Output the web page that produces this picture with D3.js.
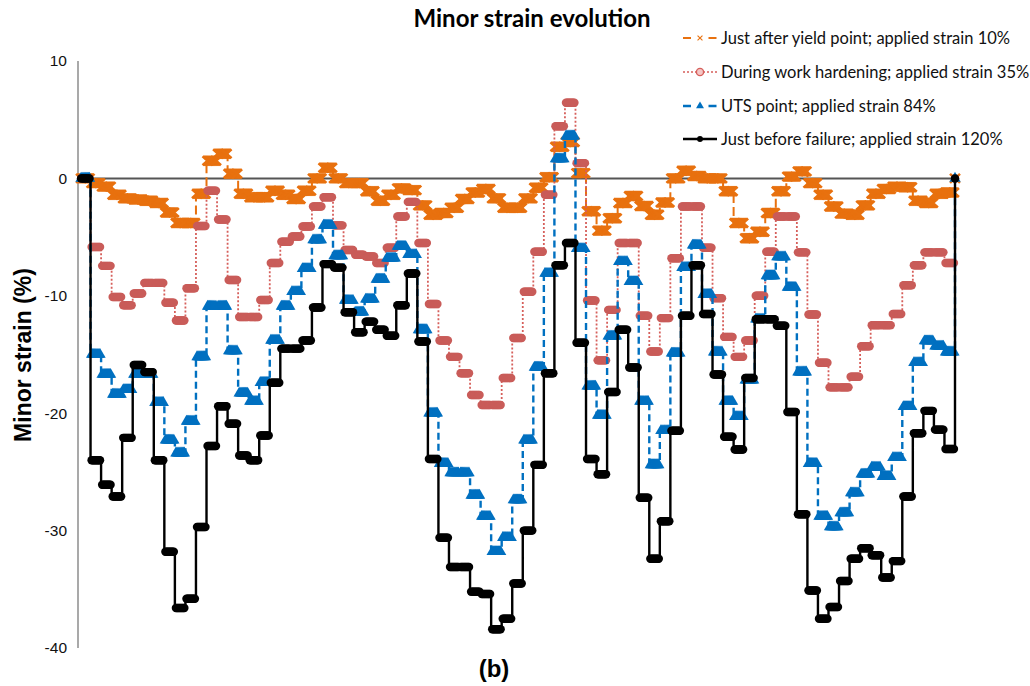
<!DOCTYPE html>
<html>
<head>
<meta charset="utf-8">
<script src="https://cdn.jsdelivr.net/npm/d3@7"></script>
<style>
  body { margin: 0; background: #fff; }
</style>
</head>
<body>
<script>
// Minor strain per segment along the section (one value per step, last one is the end point)
const yieldPoint = [0, -0.4, -0.7, -1.4, -1.7, -1.8, -1.9, -2.1, -2.9, -3.8, -3.8, -1.3, 1.5, 2.1, 0.4,
    -1.3, -1.6, -1.6, -1.05, -1.4, -1.75, -1.05, 0, 0.9, 0, -0.4, -0.4, -1.1, -1.9, -1.4, -0.85, -1.0,
    -2.3, -3.1, -2.95, -2.5, -1.75, -1.2, -0.9, -1.7, -2.5, -2.5, -1.7, -0.8, 0.1, 2.7, 3.1, 0.45, -2.8,
    -4.45, -3.4, -2.1, -1.5, -2.35, -3.1, -2.05, 0, 0.65, 0.2, 0, 0, -1.1, -3.8, -5.1, -4.55, -2.95, -1.1,
    0.15, 0.6, -0.4, -1.4, -2.4, -3.0, -3.1, -2.3, -1.3, -0.9, -0.7, -0.75, -1.9, -2.1, -1.3, -1.2, 0];

const workHardening = [0, -5.85, -7.45, -10.1, -10.8, -9.8, -8.9, -8.9, -10.6, -12.1, -9.35, -4.05, -1.05,
    -3.5, -8.65, -11.8, -11.8, -10.35, -7.2, -5.4, -4.95, -4.1, -2.4, -1.6, -4.0, -6.1, -6.5, -6.65, -7.2,
    -5.9, -3.25, -2.0, -5.5, -10.7, -13.8, -15.2, -16.6, -18.45, -19.3, -19.3, -17.0, -13.6, -9.65, -6.25,
    -1.4, 4.45, 6.45, 1.3, -10.4, -15.5, -11.2, -5.5, -5.5, -11.7, -14.75, -11.9, -6.8, -2.4, -2.4, -5.9,
    -10.2, -13.5, -15.2, -13.8, -10.0, -6.25, -3.25, -3.25, -6.3, -11.6, -15.7, -17.8, -17.8, -16.9, -14.3,
    -12.5, -12.5, -11.55, -9.1, -7.4, -6.3, -6.3, -7.2, 0];

const utsPoint = [0, -15.0, -16.7, -18.4, -18.0, -16.7, -16.7, -19.1, -22.3, -23.4, -20.7, -15.2, -10.9,
    -10.9, -14.7, -18.3, -19.0, -17.4, -13.8, -10.9, -9.65, -7.7, -5.25, -4.0, -6.6, -10.4, -11.4, -10.3,
    -8.6, -6.8, -5.8, -6.5, -12.9, -20.0, -24.3, -25.1, -25.1, -27.0, -28.8, -31.8, -30.6, -27.4, -22.3,
    -16.1, -8.1, 1.65, 3.6, -6.0, -17.7, -20.2, -13.45, -7.1, -8.8, -19.0, -24.4, -21.5, -14.9, -7.6, -5.7,
    -9.9, -14.8, -19.0, -20.3, -17.2, -12.0, -8.3, -6.7, -9.3, -16.5, -24.3, -28.8, -29.7, -28.5, -26.8,
    -25.2, -24.6, -25.4, -23.8, -19.45, -15.7, -13.85, -14.3, -14.8, 0];

const beforeFailure = [0, -24.0, -26.1, -27.1, -22.1, -15.9, -16.5, -24.0, -31.8, -36.6, -35.8, -29.7,
    -22.8, -19.4, -20.9, -23.6, -24.0, -21.9, -17.4, -14.5, -14.5, -13.8, -11.0, -7.3, -7.6, -11.4, -13.1,
    -12.2, -12.9, -13.4, -10.8, -8.1, -13.9, -23.9, -30.6, -33.1, -33.1, -35.2, -35.4, -38.4, -37.5, -34.5,
    -30.0, -24.4, -16.6, -7.4, -5.5, -14.0, -23.9, -25.2, -18.2, -12.9, -16.1, -27.2, -32.4, -29.2, -21.5,
    -11.7, -7.4, -11.55, -16.7, -22.0, -23.1, -17.0, -12.0, -12.0, -12.55, -19.9, -28.6, -35.1, -37.5,
    -36.5, -34.3, -32.4, -31.5, -32.1, -34.0, -32.6, -27.1, -21.7, -19.8, -21.4, -23.05, 0];

const seriesNames = [
    "Just after yield point; applied strain 10%",
    "During work hardening; applied strain 35%",
    "UTS point; applied strain 84%",
    "Just before failure; applied strain 120%"
];

const yTicks = [10, 0, -10, -20, -30, -40];

function drawChart() {
    const width = 1030;
    const height = 686;

    const svg = d3.select("body").append("svg")
        .attr("width", width)
        .attr("height", height);

    const nSteps = yieldPoint.length - 1;

    const x = d3.scaleLinear().domain([0, nSteps]).range([80, 955]);
    const y = d3.scaleLinear().domain([-40, 10]).range([648, 61]);

    // marker symbols, drawn in local coordinates
    const crossPath = "M-5,-4.5L5,4.5M-5,4.5L5,-4.5";
    const trianglePath = d3.symbol().type(d3.symbolTriangle).size(56)();
    const circlePath = d3.symbol().type(d3.symbolCircle).size(56)();

    const series = [
        { values: yieldPoint, color: "#e8710f", width: 2, dash: "9,4",
          marker: crossPath, fill: "none", markerStroke: 2.6 },
        { values: workHardening, color: "#d65f5b", width: 1.8, dash: "2,2",
          marker: circlePath, fill: "#c95c59", markerStroke: 0 },
        { values: utsPoint, color: "#0070c0", width: 2.4, dash: "7,4",
          marker: trianglePath, fill: "#0070c0", markerStroke: 0 },
        { values: beforeFailure, color: "#000000", width: 2.4, dash: null,
          marker: circlePath, fill: "#000000", markerStroke: 0 }
    ];

    // y axis line and labels
    svg.append("line")
        .attr("x1", 78).attr("x2", 78)
        .attr("y1", y(10)).attr("y2", y(-40))
        .attr("stroke", "#8c8c8c")
        .attr("stroke-width", 1.5);

    svg.append("g")
        .selectAll("text")
        .data(yTicks)
        .enter().append("text")
            .attr("x", 67)
            .attr("y", d => y(d))
            .attr("dy", "0.35em")
            .attr("text-anchor", "end")
            .attr("font-family", "Liberation Sans, Arial, sans-serif")
            .attr("font-size", 15.5)
            .attr("fill", "#111")
            .text(d => d);

    // zero line
    svg.append("line")
        .attr("x1", 78).attr("x2", x(nSteps))
        .attr("y1", y(0)).attr("y2", y(0))
        .attr("stroke", "#555")
        .attr("stroke-width", 2);

    const line = d3.line()
        .x((d, i) => x(i))
        .y(d => y(d))
        .curve(d3.curveStepAfter);

    // markers sit densely along each step, like the original export
    const offsets = d3.range(0.1, 0.91, 0.1);

    series.forEach(s => {
        const g = svg.append("g");

        g.append("path")
            .attr("d", line(s.values))
            .attr("fill", "none")
            .attr("stroke", s.color)
            .attr("stroke-width", s.width)
            .attr("stroke-dasharray", s.dash);

        const pts = [];
        s.values.slice(0, -1).forEach((v, k) => {
            offsets.forEach(t => pts.push({ pos: k + t, v: v }));
        });
        pts.push({ pos: nSteps, v: s.values[nSteps] });

        g.selectAll("path.marker")
            .data(pts)
            .enter().append("path")
                .attr("class", "marker")
                .attr("d", s.marker)
                .attr("transform", d => "translate(" + x(d.pos) + "," + y(d.v) + ")")
                .attr("fill", s.fill)
                .attr("stroke", s.markerStroke ? s.color : "none")
                .attr("stroke-width", s.markerStroke);
    });

    // legend
    const legend = svg.append("g");
    const rowY = [38, 72, 106, 139];

    series.forEach((s, i) => {
        const row = legend.append("g").attr("transform", "translate(0," + rowY[i] + ")");

        if (i === 1) {
            row.append("line")
                .attr("x1", 683).attr("x2", 717)
                .attr("stroke", s.color).attr("stroke-width", 1.6)
                .attr("stroke-dasharray", "2,2");
            row.append("circle")
                .attr("cx", 700).attr("r", 3.6)
                .attr("fill", "#f4c7c6")
                .attr("stroke", s.color).attr("stroke-width", 1.4);
        } else {
            row.append("line")
                .attr("x1", 683).attr("x2", 717)
                .attr("stroke", s.color).attr("stroke-width", s.width)
                .attr("stroke-dasharray", s.dash ? "8,17.5" : null);
            row.append("path")
                .attr("d", i === 0 ? "M-3.5,-3.5L3.5,3.5M-3.5,3.5L3.5,-3.5" : s.marker)
                .attr("transform", "translate(700,0)" + (i === 2 ? " scale(0.7)" : " scale(0.7)"))
                .attr("fill", s.fill)
                .attr("stroke", i === 0 ? s.color : "none")
                .attr("stroke-width", 1.6);
        }

        row.append("text")
            .attr("x", 721)
            .attr("dy", "0.35em")
            .attr("font-family", "Lato, sans-serif")
            .attr("font-size", 16.5)
            .attr("fill", "#111")
            .text(seriesNames[i]);
    });

    // titles
    svg.append("text")
        .attr("x", 532).attr("y", 27)
        .attr("text-anchor", "middle")
        .attr("font-family", "Lato, sans-serif")
        .attr("font-weight", "bold")
        .attr("font-size", 24)
        .text("Minor strain evolution");

    svg.append("text")
        .attr("transform", "translate(31,355) rotate(-90)")
        .attr("text-anchor", "middle")
        .attr("font-family", "Liberation Sans, Arial, sans-serif")
        .attr("font-weight", "bold")
        .attr("font-size", 23)
        .text("Minor strain (%)");

    svg.append("text")
        .attr("x", 494).attr("y", 677)
        .attr("text-anchor", "middle")
        .attr("font-family", "Liberation Sans, Arial, sans-serif")
        .attr("font-weight", "bold")
        .attr("font-size", 24)
        .text("(b)");
}

drawChart();
</script>
</body>
</html>
